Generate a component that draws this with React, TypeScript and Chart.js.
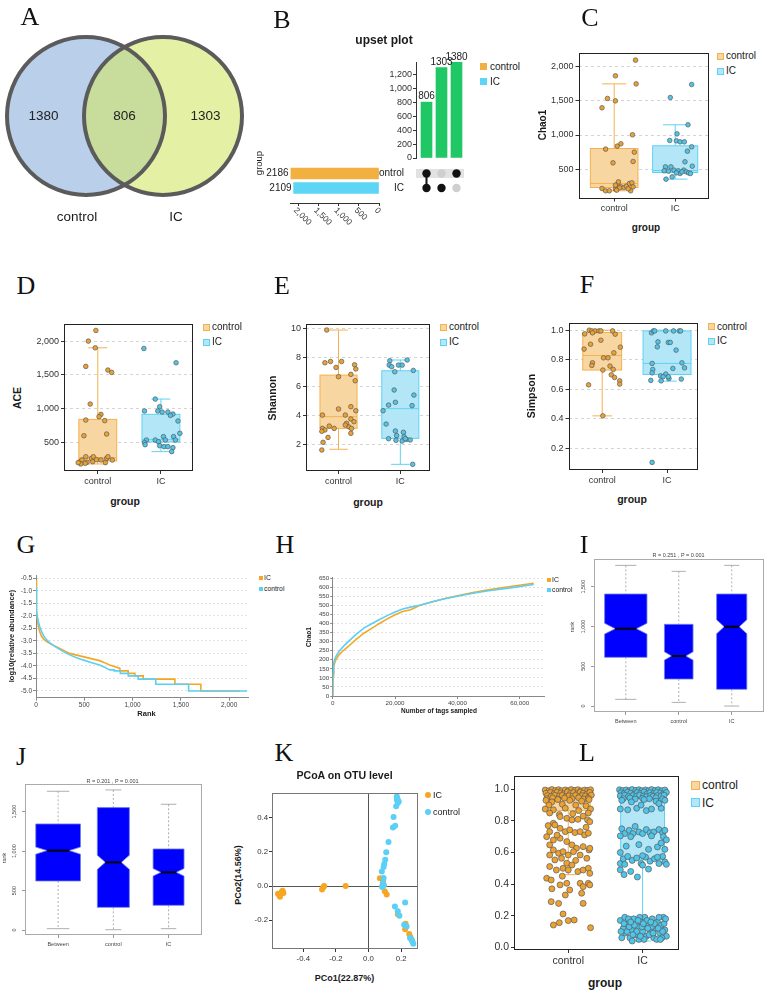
import React, { useEffect, useRef } from 'react';
import { Chart, registerables } from 'chart.js';

Chart.register(...registerables);

const SANS = "'Liberation Sans', Arial, Helvetica, sans-serif";
const SERIF = "'Liberation Serif', 'Times New Roman', Times, serif";
Chart.defaults.font.family = SANS;

/* ======================= DATA ======================= */
const groups = ['control', 'IC'];

// A – Venn counts: control only, shared, IC only
const vennCounts = [1380, 806, 1303];

// B – UpSet
const upsetCounts = [806, 1303, 1380];
const upsetMembers = [[1, 1], [0, 1], [1, 0]]; // per column: [control, IC]
const upsetSetNames = ['control', 'IC'];
const upsetSetSizes = [2186, 2109];
const upsetCountTicks = [0, 200, 400, 600, 800, 1000, 1200];
const upsetSizeTicks = [0, 500, 1000, 1500, 2000];

type Pt = [number, number];
type Box = { x: number; lo: number; q1: number; med: number; q3: number; hi: number };
type NBox = Box & { notch: number };

// C – Chao1
const chaoTicks = [500, 1000, 1500, 2000];
const chaoControl: Pt[] = [[1.35,2098],[1.02,1868],[1.36,1750],[0.89,1536],[1.02,1501],[0.80,1399],[1.30,1003],[1.11,871],[1.05,837],[0.86,793],[1.33,749],[1.31,612],[0.98,592],[0.80,216],[0.86,182],[0.92,182],[1.02,206],[1.05,274],[1.07,313],[1.11,240],[1.16,230],[1.20,250],[1.25,289],[1.29,299],[1.27,182],[1.23,211],[1.09,225],[1.02,265],[1.31,240],[1.04,191]];
const chaoIC: Pt[] = [[2.27,1741],[1.92,1550],[2.21,1150],[2.03,1017],[1.91,920],[2.02,915],[2.08,900],[2.15,900],[2.27,827],[2.20,763],[2.16,607],[2.28,543],[1.84,533],[1.93,533],[1.82,475],[1.89,470],[1.98,485],[2.05,475],[2.14,485],[2.18,460],[2.22,445],[2.25,436],[2.08,436],[2.02,445],[1.85,353],[1.95,387],[2.11,460]];
const chaoBoxes: Box[] = [{ x: 1, lo: 182, q1: 230, med: 290, q3: 802, hi: 1750 }, { x: 2, lo: 353, q1: 450, med: 480, q3: 842, hi: 1150 }];

// D – ACE
const aceTicks = [500, 1000, 1500, 2000];
const aceControl: Pt[] = [[0.97,2158],[0.85,2000],[0.96,1901],[0.81,1625],[1.16,1571],[1.22,1536],[0.88,1067],[1.05,914],[1.02,880],[0.81,830],[1.11,821],[1.14,623],[0.78,598],[0.72,213],[0.75,238],[0.81,287],[0.83,204],[0.90,262],[0.93,287],[0.92,213],[0.80,189],[0.98,243],[1.14,262],[1.16,287],[1.23,238],[1.12,199],[1.05,238],[0.73,179],[0.69,199]];
const aceIC: Pt[] = [[1.73,1891],[2.24,1679],[1.91,1141],[1.98,1028],[1.74,964],[1.95,964],[2.02,949],[2.11,949],[2.19,919],[2.15,899],[2.27,816],[2.30,633],[2.04,584],[2.20,584],[1.77,534],[1.91,534],[2.07,534],[2.23,534],[1.96,510],[1.74,495],[1.75,465],[1.98,450],[2.05,436],[2.11,436],[2.19,421],[2.17,362]];
const aceBoxes: Box[] = [{ x: 1, lo: 179, q1: 223, med: 272, q3: 840, hi: 1901 }, { x: 2, lo: 362, q1: 505, med: 540, q3: 915, hi: 1141 }];

// E – Shannon
const shannonTicks = [2, 4, 6, 8, 10];
const shannonControl: Pt[] = [[0.81,9.89],[0.87,7.72],[1.05,7.72],[0.78,7.63],[1.26,7.49],[0.96,7.31],[1.28,7.2],[1.2,6.83],[1.0,6.67],[1.27,6.39],[1.2,4.6],[1.0,4.44],[1.28,4.32],[0.74,4.02],[1.11,4.02],[1.2,3.75],[1.25,3.56],[1.13,3.45],[1.11,3.33],[0.85,3.26],[1.17,3.2],[0.93,3.1],[1.21,3.1],[0.74,3.1],[0.78,2.99],[0.73,2.9],[1.2,2.76],[0.83,2.48],[0.75,2.14],[0.73,1.61]];
const shannonIC: Pt[] = [[1.83,7.77],[2.11,7.82],[1.82,7.47],[1.97,7.47],[2.03,7.47],[1.86,7.36],[2.21,7.1],[1.91,7.01],[1.9,5.75],[2.22,5.4],[1.92,4.9],[1.81,4.71],[2.19,4.67],[1.72,4.32],[1.77,3.4],[1.92,2.92],[2.05,2.83],[1.94,2.6],[2.06,2.53],[1.81,2.39],[2.1,2.34],[1.93,2.28],[2.16,2.3],[2.03,2.23],[2.08,2.39],[2.2,0.62]];
const shannonBoxes: Box[] = [{ x: 1, lo: 1.66, q1: 3.1, med: 3.91, q3: 6.78, hi: 9.89 }, { x: 2, lo: 0.62, q1: 2.41, med: 4.46, q3: 7.08, hi: 7.82 }];

// F – Simpson
const simpsonTicks = [0.2, 0.4, 0.6, 0.8, 1.0];
const simpsonControl: Pt[] = [[0.8,1.0],[0.84,0.995],[0.89,0.995],[0.95,0.995],[0.98,0.995],[1.16,0.995],[0.85,0.982],[0.73,0.975],[1.2,0.973],[0.98,0.932],[0.82,0.905],[1.28,0.885],[0.72,0.872],[1.18,0.847],[1.02,0.813],[1.09,0.813],[0.85,0.779],[0.84,0.761],[1.12,0.757],[1.01,0.73],[1.17,0.734],[1.14,0.698],[1.19,0.68],[1.27,0.657],[1.27,0.635],[0.79,0.63],[1.01,0.42]];
const simpsonIC: Pt[] = [[1.76,0.982],[1.79,0.995],[1.81,0.995],[1.98,0.995],[2.1,0.995],[2.19,0.995],[2.21,0.995],[1.86,0.921],[1.85,0.887],[2.02,0.917],[2.05,0.917],[2.14,0.865],[1.77,0.775],[2.23,0.779],[2.09,0.741],[2.27,0.745],[1.78,0.734],[1.77,0.711],[1.9,0.691],[1.98,0.703],[1.94,0.685],[2.03,0.673],[2.02,0.685],[2.22,0.669],[1.75,0.66],[1.91,0.657],[1.77,0.105]];
const simpsonBoxes: Box[] = [{ x: 1, lo: 0.42, q1: 0.73, med: 0.829, q3: 0.984, hi: 1.0 }, { x: 2, lo: 0.655, q1: 0.70, med: 0.775, q3: 0.995, hi: 1.0 }];

// G – rank abundance
const rankTicksX = [0, 500, 1000, 1500, 2000];
const rankTicksY = [-5, -4.5, -4, -3.5, -3, -2.5, -2, -1.5, -1, -0.5];
const rankICx = [0,3,8,13,24,40,59,80,110,150,210,280,348,420,486,570,658,710,762,820,869,869,955,955,1024,1024,1110,1110,1438,1438,1707,1707,2109];
const rankICy = [-0.57,-1.3,-1.8,-2.03,-2.43,-2.65,-2.83,-2.93,-3.03,-3.12,-3.23,-3.37,-3.5,-3.57,-3.63,-3.71,-3.79,-3.87,-3.96,-4.03,-4.1,-4.2,-4.2,-4.3,-4.3,-4.4,-4.4,-4.53,-4.53,-4.73,-4.73,-5.0,-5.0];
const rankCtrlx = [0,2,7,14,24,40,59,80,110,150,210,280,348,420,486,570,658,710,762,810,810,873,873,955,955,1058,1058,1240,1240,1580,1580,2186];
const rankCtrly = [-0.83,-1.4,-1.83,-2.05,-2.23,-2.45,-2.63,-2.8,-2.96,-3.1,-3.26,-3.42,-3.56,-3.67,-3.76,-3.86,-3.96,-4.05,-4.16,-4.16,-4.2,-4.2,-4.3,-4.3,-4.4,-4.4,-4.53,-4.53,-4.73,-4.73,-5.0,-5.0];

// H – rarefaction
const rareTicksX = [0, 20000, 40000, 60000];
const rareTicksY = [0, 50, 100, 150, 200, 250, 300, 350, 400, 450, 500, 550, 600, 650];
const rareX = [0,100,300,600,1000,2000,3500,5000,7500,10000,12500,15000,17500,20000,22500,25000,26500,28000,32000,36000,40000,45000,50000,57000,64500];
const rareIC = [0,110,160,180,199,227,252,273,312,346,373,400,425,448,466,475,488,500,520,538,553,570,585,604,622];
const rareCtrl = [0,125,180,200,217,245,275,300,340,374,398,422,443,463,480,490,496,500,520,536,550,566,580,596,615];

// I / J – ANOSIM rank boxes
const anosimNames = ['Between', 'control', 'IC'];
const anosimTicks = [0, 500, 1000, 1500];
const anosimI: NBox[] = [
  { x: 1, lo: 84, q1: 612, med: 972, q3: 1408, hi: 1768, notch: 68 },
  { x: 2, lo: 46, q1: 339, med: 629, q3: 1027, hi: 1693, notch: 52 },
  { x: 3, lo: 0, q1: 210, med: 997, q3: 1408, hi: 1768, notch: 88 },
];
const anosimJ: NBox[] = [
  { x: 1, lo: 17, q1: 621, med: 1006, q3: 1344, hi: 1758, notch: 45 },
  { x: 2, lo: 4, q1: 287, med: 858, q3: 1551, hi: 1775, notch: 90 },
  { x: 3, lo: 17, q1: 313, med: 731, q3: 1027, hi: 1593, notch: 48 },
];

// K – PCoA
const pcoaTicksX = [-0.4, -0.2, 0, 0.2];
const pcoaTicksY = [-0.2, 0, 0.2, 0.4];
const pcoaIC: Pt[] = [[-0.555,-0.045],[-0.548,-0.052],[-0.543,-0.062],[-0.532,-0.035],[-0.527,-0.028],[-0.522,-0.04],[-0.285,-0.02],[-0.278,-0.008],[-0.272,0.0],[-0.14,0.0],[0.07,0.045],[0.09,0.03],[0.085,0.0],[0.1,-0.03],[0.112,-0.05],[0.18,-0.165],[0.228,-0.22],[0.225,-0.252],[0.25,-0.28],[0.258,-0.3],[0.268,-0.318]];
const pcoaControl: Pt[] = [[0.174,0.524],[0.174,0.505],[0.18,0.485],[0.17,0.466],[0.186,0.495],[0.178,0.51],[0.154,0.403],[0.15,0.343],[0.164,0.353],[0.123,0.257],[0.109,0.197],[0.103,0.154],[0.097,0.129],[0.093,0.111],[0.082,0.085],[0.093,0.047],[0.088,0.018],[0.084,-0.006],[0.095,0.005],[0.162,-0.119],[0.18,-0.148],[0.19,-0.174],[0.225,-0.096],[0.219,-0.226],[0.234,-0.236],[0.255,-0.304],[0.269,-0.324],[0.275,-0.338],[0.262,-0.31]];

// L – pairwise similarity
const pairTicks = [0, 0.2, 0.4, 0.6, 0.8, 1.0];
const pairControl: Pt[] = [
  [0.69,0.995],[0.74,0.99],[0.78,0.998],[0.83,0.992],[0.87,0.997],[0.91,0.99],[0.96,0.996],[1.0,0.991],[1.04,0.998],[1.09,0.993],[1.13,0.997],[1.17,0.99],[1.22,0.995],[1.26,0.992],[1.3,0.997],
  [0.7,0.975],[0.76,0.98],[0.81,0.972],[0.85,0.982],[0.9,0.976],[0.94,0.97],[0.99,0.983],[1.03,0.974],[1.07,0.979],[1.12,0.971],[1.16,0.981],[1.2,0.975],[1.25,0.97],[1.29,0.98],
  [0.72,0.96],[0.77,0.955],[0.82,0.962],[0.88,0.957],[0.92,0.961],[0.97,0.953],[1.01,0.959],[1.06,0.956],[1.1,0.962],[1.15,0.954],[1.19,0.96],[1.23,0.957],[1.28,0.952],[1.31,0.963],
  [0.71,0.94],[0.79,0.945],[0.86,0.938],[0.95,0.944],[1.05,0.94],[1.14,0.946],[1.21,0.939],[1.27,0.943],
  [0.70,0.93],[0.78,0.92],[0.86,0.935],[1.02,0.93],[1.18,0.925],[1.28,0.935],[0.74,0.90],[0.92,0.905],[1.10,0.90],[1.24,0.895],[0.69,0.875],[0.80,0.87],[0.96,0.88],[1.14,0.865],[1.30,0.875],[0.75,0.85],[1.06,0.845],[1.27,0.85],[0.88,0.84],[1.20,0.83],
  [0.89,0.827],[0.98,0.816],[1.05,0.806],[1.13,0.81],[1.26,0.806],[1.29,0.795],[0.80,0.785],[0.82,0.774],[0.89,0.753],[0.96,0.732],[1.02,0.743],[1.09,0.726],[1.16,0.732],[1.22,0.711],[1.27,0.722],[0.75,0.732],
  [0.71,0.70],[0.80,0.679],[0.89,0.69],[0.98,0.669],[1.05,0.648],[1.11,0.627],[1.2,0.637],[1.28,0.616],[0.75,0.648],[0.80,0.616],[0.87,0.595],[0.93,0.605],[1.0,0.584],[1.07,0.605],[1.16,0.584],[1.25,0.563],[1.29,0.627],
  [0.75,0.584],[0.82,0.553],[0.91,0.563],[0.98,0.532],[0.75,0.511],[0.84,0.489],[0.93,0.5],[1.0,0.489],[1.05,0.521],[1.13,0.479],[1.2,0.489],[1.27,0.5],[1.29,0.468],[0.71,0.437],[0.77,0.426],[0.89,0.395],
  [0.98,0.405],[1.02,0.363],[0.96,0.331],[1.16,0.405],[1.2,0.384],[1.27,0.405],[1.29,0.395],[1.18,0.342],[0.77,0.289],[0.87,0.278],[1.2,0.278],[0.93,0.211],[0.80,0.141],[0.88,0.156],[1.0,0.169],[1.08,0.173],[1.3,0.124],
  [0.73,0.77],[0.85,0.71],[1.24,0.76],[0.92,0.45],[1.1,0.55],[0.78,0.37],
];
const pairIC: Pt[] = [
  [1.69,0.997],[1.73,0.992],[1.78,0.996],[1.82,0.99],[1.86,0.998],[1.91,0.993],[1.95,0.997],[1.99,0.991],[2.04,0.996],[2.08,0.99],[2.12,0.998],[2.17,0.993],[2.21,0.997],[2.26,0.991],[2.3,0.995],
  [1.71,0.978],[1.75,0.972],[1.8,0.982],[1.84,0.975],[1.89,0.97],[1.93,0.98],[1.97,0.974],[2.02,0.983],[2.06,0.971],[2.1,0.979],[2.15,0.973],[2.19,0.981],[2.24,0.976],[2.28,0.97],[2.32,0.98],
  [1.7,0.958],[1.76,0.962],[1.81,0.954],[1.87,0.96],[1.92,0.956],[1.96,0.963],[2.01,0.957],[2.05,0.953],[2.11,0.961],[2.14,0.955],[2.2,0.96],[2.25,0.957],[2.29,0.962],
  [1.74,0.94],[1.83,0.945],[1.9,0.938],[2.0,0.943],[2.09,0.94],[2.18,0.946],[2.27,0.939],
  [1.72,0.93],[1.85,0.92],[2.02,0.935],[2.18,0.925],[2.3,0.93],[1.7,0.875],[1.8,0.87],[1.92,0.88],[2.05,0.865],[2.12,0.875],[2.25,0.88],[1.98,0.9],[2.22,0.91],
  [1.72,0.75],[1.76,0.72],[1.82,0.74],[1.87,0.72],[1.9,0.765],[1.95,0.73],[2.0,0.72],[2.05,0.745],[2.1,0.725],[2.15,0.73],[2.22,0.745],[2.27,0.725],[2.3,0.74],[1.7,0.705],[1.84,0.7],[2.12,0.705],[2.28,0.7],[2.32,0.68],
  [1.78,0.64],[1.95,0.65],[2.08,0.62],[2.2,0.635],[2.3,0.62],[1.7,0.6],[2.25,0.66],
  [1.7,0.53],[1.74,0.56],[1.8,0.575],[1.86,0.55],[1.92,0.565],[1.98,0.53],[2.04,0.57],[2.1,0.545],[2.16,0.56],[2.22,0.53],[2.27,0.575],[2.3,0.54],[2.32,0.525],[1.76,0.525],[2.0,0.58],[2.2,0.57],
  [1.7,0.49],[1.75,0.46],[1.84,0.48],[1.93,0.445],[2.08,0.495],[2.0,0.52],
  [1.7,0.17],[1.74,0.12],[1.77,0.09],[1.8,0.15],[1.83,0.06],[1.85,0.11],[1.88,0.18],[1.9,0.08],[1.93,0.13],[1.95,0.05],[1.98,0.16],[2.0,0.1],[2.03,0.19],[2.05,0.07],[2.08,0.14],[2.1,0.11],[2.13,0.18],[2.15,0.06],[2.18,0.12],[2.2,0.16],[2.23,0.09],[2.25,0.14],[2.28,0.19],[2.3,0.11],[2.32,0.07],
  [1.72,0.06],[1.76,0.19],[1.79,0.1],[1.82,0.13],[1.86,0.04],[1.89,0.14],[1.92,0.1],[1.96,0.19],[1.99,0.13],[2.02,0.05],[2.06,0.17],[2.09,0.08],[2.12,0.13],[2.16,0.15],[2.19,0.05],[2.22,0.19],[2.26,0.06],[2.29,0.15],[2.31,0.18],
  [1.71,0.1],[1.75,0.15],[1.81,0.18],[1.87,0.08],[1.94,0.17],[2.01,0.15],[2.07,0.12],[2.14,0.09],[2.21,0.12],[2.27,0.1],[1.84,0.16],[2.11,0.16],[1.97,0.07],[2.24,0.05],
];
const pairBoxes: Box[] = [{ x: 1, lo: 0.46, q1: 0.865, med: 0.955, q3: 0.99, hi: 1.0 }, { x: 2, lo: 0.04, q1: 0.555, med: 0.95, q3: 0.99, hi: 1.0 }];

/* ======================= STYLE ======================= */
const OR_PT = '#EDA12F', CY_PT = '#4EC5EA', PT_EDGE = '#5a5a5a';
const OR_FILL = '#F8D6A2', OR_LINE = '#F3B24E', CY_FILL = '#B3E7F7', CY_LINE = '#5FD2F4';
const OR_BAR = '#F2B040', CY_BAR = '#5DD5F5', GREEN = '#1FC864';
const OR_LN = '#F5A623', CY_LN = '#5BCFF5';

type Rect = { x: number; y: number; w: number; h: number };
const pts = (a: Pt[]) => a.map(([x, y]) => ({ x, y }));
const zip = (xs: number[], ys: number[]) => xs.map((x, i) => ({ x, y: ys[i] }));
const at = (vals: number[]) => (s: any) => { s.ticks = vals.map((v) => ({ value: v })); };
const comma = (v: number) => Number(v).toLocaleString('en-US');
const fx1 = (v: number) => Number(v).toFixed(1);
const yFit = (c: Rect, p: Rect) => (s: any) => { s.width = p.x - c.x; };
const xFit = (c: Rect, p: Rect) => (s: any) => { s.height = c.y + c.h - (p.y + p.h); };
const F = (size: number, weight: any = 'normal') => ({ family: SANS, size, weight });

function base(c: Rect, p: Rect) {
  return {
    responsive: false, maintainAspectRatio: false, animation: false, devicePixelRatio: 1, events: [],
    layout: { autoPadding: false, padding: { left: 0, top: p.y - c.y, right: c.x + c.w - (p.x + p.w), bottom: 0 } },
    plugins: { legend: { display: false }, tooltip: { enabled: false }, title: { display: false } },
  };
}

/* ======================= PLUGINS ======================= */
function framePlug(color: string, width = 1) {
  return {
    id: 'frame',
    afterDatasetsDraw(chart: any) {
      const { left, top, right, bottom } = chart.chartArea;
      const ctx = chart.ctx;
      ctx.save();
      ctx.strokeStyle = color; ctx.lineWidth = width;
      ctx.strokeRect(Math.round(left) + 0.5, Math.round(top) + 0.5, Math.round(right) - Math.round(left) - 1, Math.round(bottom) - Math.round(top) - 1);
      ctx.restore();
    },
  };
}

function ggBoxPlug(boxes: Box[], widths: number[], cap: number) {
  return {
    id: 'ggbox',
    beforeDatasetsDraw(chart: any) {
      const ctx = chart.ctx, X = chart.scales.x, Y = chart.scales.y;
      const px = (v: number) => X.getPixelForValue(v), py = (v: number) => Y.getPixelForValue(v);
      boxes.forEach((b, i) => {
        const w = widths[i];
        const cx = px(b.x), l = px(b.x - w / 2), r = px(b.x + w / 2), cl = px(b.x - cap / 2), cr = px(b.x + cap / 2);
        ctx.save();
        ctx.strokeStyle = i === 0 ? OR_LINE : CY_LINE; ctx.lineWidth = 1;
        ctx.beginPath();
        ctx.moveTo(cx, py(b.hi)); ctx.lineTo(cx, py(b.q3));
        ctx.moveTo(cx, py(b.q1)); ctx.lineTo(cx, py(b.lo));
        ctx.moveTo(cl, py(b.hi)); ctx.lineTo(cr, py(b.hi));
        ctx.moveTo(cl, py(b.lo)); ctx.lineTo(cr, py(b.lo));
        ctx.stroke();
        const t = py(b.q3), h = py(b.q1) - t;
        ctx.fillStyle = i === 0 ? OR_FILL : CY_FILL;
        ctx.fillRect(l, t, r - l, h);
        ctx.strokeRect(l, t, r - l, h);
        ctx.beginPath(); ctx.moveTo(l, py(b.med)); ctx.lineTo(r, py(b.med)); ctx.stroke();
        ctx.restore();
      });
    },
  };
}

function rBoxPlug(boxes: NBox[], widths: number[]) {
  return {
    id: 'rbox',
    beforeDatasetsDraw(chart: any) {
      const ctx = chart.ctx, X = chart.scales.x, Y = chart.scales.y;
      const px = (v: number) => X.getPixelForValue(v), py = (v: number) => Y.getPixelForValue(v);
      boxes.forEach((b, i) => {
        const w = widths[i];
        const cx = px(b.x), l = px(b.x - w / 2), r = px(b.x + w / 2), nl = px(b.x - w / 4), nr = px(b.x + w / 4);
        ctx.save();
        ctx.strokeStyle = '#9a9a9a'; ctx.lineWidth = 0.8;
        ctx.setLineDash([2, 2]);
        ctx.beginPath();
        ctx.moveTo(cx, py(b.hi)); ctx.lineTo(cx, py(b.q3));
        ctx.moveTo(cx, py(b.q1)); ctx.lineTo(cx, py(b.lo));
        ctx.stroke();
        ctx.setLineDash([]);
        ctx.beginPath();
        ctx.moveTo(nl, py(b.hi)); ctx.lineTo(nr, py(b.hi));
        ctx.moveTo(nl, py(b.lo)); ctx.lineTo(nr, py(b.lo));
        ctx.stroke();
        ctx.beginPath();
        ctx.moveTo(l, py(b.q3)); ctx.lineTo(r, py(b.q3)); ctx.lineTo(r, py(b.med + b.notch)); ctx.lineTo(nr, py(b.med));
        ctx.lineTo(r, py(b.med - b.notch)); ctx.lineTo(r, py(b.q1)); ctx.lineTo(l, py(b.q1)); ctx.lineTo(l, py(b.med - b.notch));
        ctx.lineTo(nl, py(b.med)); ctx.lineTo(l, py(b.med + b.notch)); ctx.closePath();
        ctx.fillStyle = '#0000FF'; ctx.fill();
        ctx.strokeStyle = '#7080E0'; ctx.lineWidth = 0.8; ctx.stroke();
        ctx.beginPath(); ctx.moveTo(nl, py(b.med)); ctx.lineTo(nr, py(b.med));
        ctx.strokeStyle = '#000'; ctx.lineWidth = 2; ctx.stroke();
        ctx.restore();
      });
    },
  };
}

function barTopLabels(vals: number[]) {
  return {
    id: 'barTop',
    afterDatasetsDraw(chart: any) {
      const ctx = chart.ctx; const meta = chart.getDatasetMeta(0);
      ctx.save(); ctx.font = `10px ${SANS}`; ctx.fillStyle = '#222'; ctx.textAlign = 'center'; ctx.textBaseline = 'bottom';
      meta.data.forEach((el: any, i: number) => ctx.fillText(String(vals[i]), el.x, el.y - 0.5));
      ctx.restore();
    },
  };
}

function barLeftLabels(vals: number[]) {
  return {
    id: 'barLeft',
    afterDatasetsDraw(chart: any) {
      const ctx = chart.ctx; const meta = chart.getDatasetMeta(0);
      ctx.save(); ctx.font = `10px ${SANS}`; ctx.fillStyle = '#222'; ctx.textAlign = 'right'; ctx.textBaseline = 'middle';
      meta.data.forEach((el: any, i: number) => ctx.fillText(String(vals[i]), el.x - 2, el.y));
      ctx.restore();
    },
  };
}

function rotTicks(vals: number[]) {
  return {
    id: 'rotTicks',
    afterDraw(chart: any) {
      const ctx = chart.ctx, X = chart.scales.x, b = chart.chartArea.bottom;
      ctx.save(); ctx.font = `8.5px ${SANS}`; ctx.fillStyle = '#333'; ctx.textAlign = 'left'; ctx.textBaseline = 'middle';
      vals.forEach((v) => {
        ctx.save(); ctx.translate(X.getPixelForValue(v) - 3, b + 6); ctx.rotate(Math.PI / 4); ctx.fillText(comma(v), 0, 0); ctx.restore();
      });
      ctx.restore();
    },
  };
}

function bandPlug(value: number, half: number, color: string) {
  return {
    id: 'band',
    beforeDatasetsDraw(chart: any) {
      const ctx = chart.ctx, { left, right } = chart.chartArea, y = chart.scales.y.getPixelForValue(value);
      ctx.save(); ctx.fillStyle = color; ctx.fillRect(left, y - half, right - left, half * 2); ctx.restore();
    },
  };
}

function vennLabels(counts: number[], r: number, cxs: number[], cy: number) {
  return {
    id: 'vennLabels',
    afterDatasetsDraw(chart: any) {
      const ctx = chart.ctx, X = chart.scales.x, Y = chart.scales.y;
      const [a, b] = cxs;
      const xs = [(a - r + b - r) / 2, (b - r + a + r) / 2, (a + r + b + r) / 2];
      ctx.save(); ctx.font = `13.5px ${SANS}`; ctx.fillStyle = '#222'; ctx.textAlign = 'center'; ctx.textBaseline = 'middle';
      counts.forEach((n, i) => ctx.fillText(String(n), X.getPixelForValue(xs[i]), Y.getPixelForValue(cy)));
      ctx.restore();
    },
  };
}

/* ======================= CONFIGS ======================= */
const hiddenX = (c: Rect, p: Rect, min: number, max: number) => ({
  type: 'linear', min, max, offset: false, afterFit: xFit(c, p), ticks: { display: false }, grid: { display: false }, border: { display: false },
});

function ggPanel(o: any) {
  const { c, p } = o;
  return {
    type: 'scatter',
    data: {
      datasets: [
        { data: pts(o.ctrl), pointRadius: o.r, backgroundColor: OR_PT, borderColor: PT_EDGE, borderWidth: 0.7, clip: false },
        { data: pts(o.ic), pointRadius: o.r, backgroundColor: CY_PT, borderColor: PT_EDGE, borderWidth: 0.7, clip: false },
      ],
    },
    options: {
      ...base(c, p),
      scales: {
        x: {
          type: 'linear', min: o.xmin, max: o.xmax, afterBuildTicks: at([1, 2]), afterFit: xFit(c, p),
          ticks: { callback: (v: number) => groups[v - 1], font: F(o.tick), color: '#333', padding: 2, autoSkip: false, minRotation: 0, maxRotation: 0 },
          grid: { drawOnChartArea: false, tickLength: 3, color: '#333' }, border: { display: false },
        },
        y: {
          type: 'linear', min: o.ymin, max: o.ymax, afterBuildTicks: at(o.yticks), afterFit: yFit(c, p),
          ticks: { callback: o.yfmt, font: F(o.tick), color: '#333', padding: 2, autoSkip: false },
          grid: { drawOnChartArea: o.grid, color: '#d4d4d4', tickColor: '#333', tickLength: 3 }, border: { display: false, dash: [3, 3] },
        },
      },
    },
    plugins: [ggBoxPlug(o.boxes, o.bw, o.cap), framePlug('#222')],
  };
}

function rPanel(c: Rect, p: Rect, ymin: number, ymax: number, boxes: NBox[], widths: number[]) {
  return {
    type: 'scatter',
    data: { datasets: [] },
    options: {
      ...base(c, p),
      scales: {
        x: {
          type: 'linear', min: 0.4, max: 3.6, afterBuildTicks: at([1, 2, 3]), afterFit: xFit(c, p),
          ticks: { callback: (v: number) => anosimNames[v - 1], font: F(5.5), color: '#444', padding: 3, autoSkip: false, minRotation: 0, maxRotation: 0 },
          grid: { drawOnChartArea: false, tickLength: 3, color: '#999' }, border: { display: false },
        },
        y: {
          type: 'linear', min: ymin, max: ymax, afterBuildTicks: at(anosimTicks), afterFit: yFit(c, p),
          ticks: { font: F(5.5), color: '#444', padding: 1, autoSkip: false, minRotation: 90, maxRotation: 90, crossAlign: 'center' },
          grid: { drawOnChartArea: false, tickLength: 3, color: '#999' }, border: { display: false },
        },
      },
    },
    plugins: [rBoxPlug(boxes, widths), framePlug('#aaa')],
  };
}

// rects
const cA = { x: 0, y: 25, w: 250, h: 195 };
const cB1 = { x: 370, y: 45, w: 100, h: 125 }, pB1 = { x: 416, y: 62, w: 48, h: 96 };
const cB2 = { x: 370, y: 148, w: 100, h: 64 }, pB2 = { x: 416, y: 165, w: 48, h: 31 };
const cB3 = { x: 250, y: 160, w: 132, h: 80 }, pB3 = { x: 290.5, y: 165, w: 88.5, h: 38 };
const cC = { x: 540, y: 42, w: 172, h: 173 }, pC = { x: 578.5, y: 52.5, w: 130, h: 146 };
const cD = { x: 25, y: 312, w: 172, h: 173 }, pD = { x: 64, y: 323.5, w: 128.5, h: 147.5 };
const cE = { x: 275, y: 312, w: 158, h: 173 }, pE = { x: 306, y: 323.5, w: 124, h: 147.5 };
const cF = { x: 535, y: 312, w: 165, h: 173 }, pF = { x: 568.5, y: 322.5, w: 129, h: 147.5 };
const cG = { x: 5, y: 565, w: 250, h: 155 }, pG = { x: 36, y: 575, w: 212, h: 122.7 };
const cH = { x: 312, y: 568, w: 235, h: 152 }, pH = { x: 332.7, y: 577, w: 211.3, h: 119 };
const cI = { x: 565, y: 550, w: 199, h: 180 }, pI = { x: 594, y: 559, w: 169.5, h: 153 };
const cJ = { x: 0, y: 775, w: 210, h: 180 }, pJ = { x: 25, y: 784, w: 176.7, h: 151 };
const cK = { x: 250, y: 783, w: 172, h: 187 }, pK = { x: 272, y: 793, w: 146, h: 156 };
const cL = { x: 488, y: 762, w: 192, h: 213 }, pL = { x: 514, y: 776, w: 165, h: 174 };

const VENN = { r: 79, cx: [86, 163], cy: 116 };
const rowY = (i: number) => upsetSetNames.length - 1 - i;

const configs: Record<string, () => any> = {
  A: () => ({
    type: 'scatter',
    data: {
      datasets: [
        { data: VENN.cx.map((x) => ({ x, y: VENN.cy })), pointRadius: VENN.r, backgroundColor: 'rgba(0,0,0,0)', borderColor: '#5b5b5b', borderWidth: 4, clip: false },
        { data: [{ x: VENN.cx[1], y: VENN.cy }], pointRadius: VENN.r, backgroundColor: 'rgba(210,230,102,0.6)', borderWidth: 0, clip: false },
        { data: [{ x: VENN.cx[0], y: VENN.cy }], pointRadius: VENN.r, backgroundColor: 'rgb(185,207,234)', borderWidth: 0, clip: false },
      ],
    },
    options: {
      responsive: false, animation: false, devicePixelRatio: 1, events: [],
      layout: { autoPadding: false, padding: 0 },
      plugins: { legend: { display: false }, tooltip: { enabled: false } },
      scales: { x: { display: false, min: 0, max: 250 }, y: { display: false, min: 25, max: 220, reverse: true } },
    },
    plugins: [vennLabels(vennCounts, VENN.r + 2, VENN.cx, VENN.cy)],
  }),
  B1: () => ({
    type: 'bar',
    data: { datasets: [{ data: upsetCounts.map((v, i) => ({ x: i + 1, y: v })), backgroundColor: GREEN, barThickness: 11 }] },
    options: {
      ...base(cB1, pB1),
      scales: {
        x: hiddenX(cB1, pB1, 0.3, 3.5),
        y: {
          type: 'linear', min: 0, max: 1385, afterBuildTicks: at(upsetCountTicks), afterFit: yFit(cB1, pB1),
          ticks: { callback: comma, font: F(9), color: '#333', padding: 1, autoSkip: false },
          grid: { drawOnChartArea: false, tickLength: 3, color: '#333' }, border: { display: true, color: '#333' },
        },
      },
    },
    plugins: [barTopLabels(upsetCounts)],
  }),
  B2: () => {
    const dots: any[] = [], cols: string[] = [];
    upsetMembers.forEach((m, ci) => m.forEach((on, si) => { dots.push({ x: ci + 1, y: rowY(si) }); cols.push(on ? '#111' : '#cfcfcf'); }));
    const links = upsetMembers
      .map((m, ci) => ({ ci, on: m.map((v, si) => (v ? si : -1)).filter((s) => s >= 0) }))
      .filter((o) => o.on.length > 1)
      .map((o) => ({ data: o.on.map((si) => ({ x: o.ci + 1, y: rowY(si) })), showLine: true, borderColor: '#111', borderWidth: 2, pointRadius: 0 }));
    return {
      type: 'scatter',
      data: { datasets: [{ data: dots, pointRadius: 4.2, backgroundColor: cols, borderWidth: 0, clip: false }, ...links] },
      options: {
        ...base(cB2, pB2),
        scales: {
          x: hiddenX(cB2, pB2, 0.3, 3.5),
          y: {
            type: 'linear', min: -0.552, max: 1.586, afterBuildTicks: at([0, 1]), afterFit: yFit(cB2, pB2),
            ticks: { callback: (v: number) => upsetSetNames[rowY(v)], font: F(10), color: '#222', padding: 4, autoSkip: false },
            grid: { display: false }, border: { display: false },
          },
        },
      },
      plugins: [bandPlug(rowY(0), 4.5, '#e2e2e2')],
    };
  },
  B3: () => ({
    type: 'bar',
    data: { datasets: [{ data: upsetSetSizes.map((v, i) => ({ x: v, y: rowY(i) })), backgroundColor: [OR_BAR, CY_BAR], barThickness: 11 }] },
    options: {
      ...base(cB3, pB3),
      indexAxis: 'y',
      scales: {
        x: {
          type: 'linear', reverse: true, min: 0, max: 2186, offset: false, afterBuildTicks: at(upsetSizeTicks), afterFit: xFit(cB3, pB3),
          ticks: { display: false }, grid: { drawOnChartArea: false, tickLength: 3, color: '#333' }, border: { display: true, color: '#333' },
        },
        y: {
          type: 'linear', min: -1.034, max: 1.586, offset: false, afterFit: yFit(cB3, pB3),
          ticks: { display: false }, grid: { display: false }, border: { display: false },
        },
      },
    },
    plugins: [barLeftLabels(upsetSetSizes), rotTicks(upsetSizeTicks)],
  }),
  C: () => ggPanel({ c: cC, p: pC, ymin: 69, ymax: 2210, yticks: chaoTicks, yfmt: comma, xmin: 0.415, xmax: 2.546, boxes: chaoBoxes, bw: [0.78, 0.74], cap: 0.4, ctrl: chaoControl, ic: chaoIC, tick: 9, r: 2.3, grid: true }),
  D: () => ggPanel({ c: cD, p: pD, ymin: 75, ymax: 2261, yticks: aceTicks, yfmt: comma, xmin: 0.465, xmax: 2.5, boxes: aceBoxes, bw: [0.6, 0.6], cap: 0.3, ctrl: aceControl, ic: aceIC, tick: 9, r: 2.3, grid: true }),
  E: () => ggPanel({ c: cE, p: pE, ymin: 0.16, ymax: 10.34, yticks: shannonTicks, yfmt: (v: number) => String(v), xmin: 0.474, xmax: 2.48, boxes: shannonBoxes, bw: [0.6, 0.6], cap: 0.3, ctrl: shannonControl, ic: shannonIC, tick: 9, r: 2.3, grid: true }),
  F: () => ggPanel({ c: cF, p: pF, ymin: 0.0535, ymax: 1.052, yticks: simpsonTicks, yfmt: fx1, xmin: 0.48, xmax: 2.47, boxes: simpsonBoxes, bw: [0.6, 0.74], cap: 0.3, ctrl: simpsonControl, ic: simpsonIC, tick: 9, r: 2.3, grid: true }),
  G: () => ({
    type: 'scatter',
    data: {
      datasets: [
        { data: zip(rankCtrlx, rankCtrly), showLine: true, borderColor: CY_LN, borderWidth: 1.6, pointRadius: 0 },
        { data: zip(rankICx, rankICy), showLine: true, borderColor: OR_LN, borderWidth: 1.6, pointRadius: 0 },
      ],
    },
    options: {
      ...base(cG, pG),
      scales: {
        x: {
          type: 'linear', min: 0, max: 2195, afterBuildTicks: at(rankTicksX), afterFit: xFit(cG, pG),
          ticks: { callback: comma, font: F(6.5), color: '#444', padding: 1, autoSkip: false, minRotation: 0, maxRotation: 0 },
          grid: { drawOnChartArea: false, tickLength: 3, color: '#888' }, border: { display: true, color: '#888' },
        },
        y: {
          type: 'linear', min: -5.27, max: -0.37, afterBuildTicks: at(rankTicksY), afterFit: yFit(cG, pG),
          ticks: { callback: fx1, font: F(6.5), color: '#444', padding: 1, autoSkip: false },
          grid: { color: '#e2e2e2', tickColor: '#888', tickLength: 3 }, border: { display: true, color: '#888', dash: [2, 2] },
        },
      },
    },
  }),
  H: () => ({
    type: 'scatter',
    data: {
      datasets: [
        { data: zip(rareX, rareCtrl), showLine: true, borderColor: CY_LN, borderWidth: 1.6, pointRadius: 0 },
        { data: zip(rareX, rareIC), showLine: true, borderColor: OR_LN, borderWidth: 1.6, pointRadius: 0 },
      ],
    },
    options: {
      ...base(cH, pH),
      scales: {
        x: {
          type: 'linear', min: 0, max: 67800, afterBuildTicks: at(rareTicksX), afterFit: xFit(cH, pH),
          ticks: { callback: comma, font: F(6.2), color: '#444', padding: 1, autoSkip: false, minRotation: 0, maxRotation: 0 },
          grid: { drawOnChartArea: false, tickLength: 3, color: '#888' }, border: { display: true, color: '#888' },
        },
        y: {
          type: 'linear', min: 0, max: 656, afterBuildTicks: at(rareTicksY), afterFit: yFit(cH, pH),
          ticks: { font: F(6.2), color: '#444', padding: 1, autoSkip: false },
          grid: { color: '#e2e2e2', tickColor: '#888', tickLength: 2.5 }, border: { display: true, color: '#888', dash: [2, 2] },
        },
      },
    },
  }),
  I: () => rPanel(cI, pI, -75, 1848, anosimI, [0.8, 0.54, 0.57]),
  J: () => rPanel(cJ, pJ, -63, 1850, anosimJ, [0.81, 0.58, 0.56]),
  K: () => ({
    type: 'scatter',
    data: {
      datasets: [
        { data: pts(pcoaControl), pointRadius: 3, backgroundColor: CY_LN, borderWidth: 0, clip: false },
        { data: pts(pcoaIC), pointRadius: 3, backgroundColor: OR_LN, borderWidth: 0, clip: false },
      ],
    },
    options: {
      ...base(cK, pK),
      scales: {
        x: {
          type: 'linear', min: -0.592, max: 0.304, afterBuildTicks: at(pcoaTicksX), afterFit: xFit(cK, pK),
          ticks: { callback: fx1, font: F(7.8), color: '#333', padding: 2, autoSkip: false, minRotation: 0, maxRotation: 0 },
          grid: { color: (ctx: any) => (ctx.tick && ctx.tick.value === 0 ? '#555' : 'rgba(0,0,0,0)'), tickColor: '#333', tickLength: 3 }, border: { display: false },
        },
        y: {
          type: 'linear', min: -0.368, max: 0.544, afterBuildTicks: at(pcoaTicksY), afterFit: yFit(cK, pK),
          ticks: { callback: fx1, font: F(7.8), color: '#333', padding: 1, autoSkip: false },
          grid: { color: (ctx: any) => (ctx.tick && ctx.tick.value === 0 ? '#555' : 'rgba(0,0,0,0)'), tickColor: '#333', tickLength: 3 }, border: { display: false },
        },
      },
    },
    plugins: [framePlug('#777')],
  }),
  L: () => ggPanel({ c: cL, p: pL, ymin: -0.017, ymax: 1.084, yticks: pairTicks, yfmt: fx1, xmin: 0.27, xmax: 2.49, boxes: pairBoxes, bw: [0.59, 0.59], cap: 0.22, ctrl: pairControl, ic: pairIC, tick: 10.5, r: 3, grid: false }),
};

/* ======================= COMPONENTS ======================= */
function ChartCanvas({ c, make }: { c: Rect; make: () => any }) {
  const ref = useRef<HTMLCanvasElement>(null);
  useEffect(() => {
    const chart = new Chart(ref.current as HTMLCanvasElement, make());
    return () => chart.destroy();
  }, []);
  return <canvas ref={ref} width={c.w} height={c.h} style={{ position: 'absolute', left: c.x, top: c.y, width: c.w, height: c.h }} />;
}

function Txt({ x, y, t, s, b = false, rot = 0, a = 'c', f = SANS, c = '#1a1a1a' }: any) {
  const tr = a === 'l' ? 'translate(0,-50%)' : 'translate(-50%,-50%)';
  return (
    <div style={{ position: 'absolute', left: x, top: y, transform: `${tr} rotate(${rot}deg)`, transformOrigin: a === 'l' ? 'left center' : 'center', fontFamily: f, fontSize: s, fontWeight: b ? 700 : 400, color: c, whiteSpace: 'nowrap', lineHeight: 1 }}>{t}</div>
  );
}

function Sq({ x, y, s, fill, line }: any) {
  return <div style={{ position: 'absolute', left: x, top: y, width: s, height: s, background: fill, border: line ? `1px solid ${line}` : 'none', boxSizing: 'border-box' }} />;
}

function Dot({ x, y, r, fill }: any) {
  return <div style={{ position: 'absolute', left: x - r, top: y - r, width: 2 * r, height: 2 * r, borderRadius: '50%', background: fill }} />;
}

function GGLegend({ x, y1, y2, s, tx, fs }: any) {
  return (
    <>
      <Sq x={x} y={y1 - s / 2} s={s} fill={OR_FILL} line={OR_LINE} />
      <Txt x={tx} y={y1} t="control" s={fs} a="l" />
      <Sq x={x} y={y2 - s / 2} s={s} fill={CY_FILL} line={CY_LINE} />
      <Txt x={tx} y={y2} t="IC" s={fs} a="l" />
    </>
  );
}

export default function App() {
  const rects: [string, Rect][] = [['A', cA], ['B1', cB1], ['B2', cB2], ['B3', cB3], ['C', cC], ['D', cD], ['E', cE], ['F', cF], ['G', cG], ['H', cH], ['I', cI], ['J', cJ], ['K', cK], ['L', cL]];
  const letters: [string, number, number][] = [['A', 30, 16.5], ['B', 282, 20], ['C', 590, 18], ['D', 26, 285.5], ['E', 282, 286], ['F', 587, 285], ['G', 26, 545], ['H', 285, 545], ['I', 584, 545], ['J', 21, 757], ['K', 284, 753], ['L', 587, 753]];
  return (
    <div style={{ position: 'absolute', left: 0, top: 0, width: 764, height: 992, background: '#fff', overflow: 'hidden' }}>
      {rects.map(([k, c]) => <ChartCanvas key={k} c={c} make={configs[k]} />)}

      {letters.map(([t, x, y]) => <Txt key={t} x={x} y={y} t={t} s={26} f={SERIF} c="#111" />)}

      {/* A */}
      <Txt x={77} y={217} t="control" s={13.5} />
      <Txt x={176} y={217} t="IC" s={13.5} />

      {/* B */}
      <Txt x={384} y={40} t="upset plot" s={12} b />
      <Txt x={259} y={163} t="group" s={9.5} rot={-90} />
      <Sq x={480} y={63} s={7} fill={OR_BAR} />
      <Txt x={490} y={66.5} t="control" s={10} a="l" />
      <Sq x={480} y={78} s={7} fill={CY_BAR} />
      <Txt x={490} y={81.5} t="IC" s={10} a="l" />

      {/* C */}
      <Txt x={543} y={125} t="Chao1" s={10} b rot={-90} />
      <Txt x={646} y={228} t="group" s={10} b />
      <GGLegend x={717} y1={56} y2={71} s={7} tx={726} fs={10} />

      {/* D */}
      <Txt x={17} y={398} t="ACE" s={10.5} b rot={-90} />
      <Txt x={125} y={501} t="group" s={10.5} b />
      <GGLegend x={203} y1={327} y2={342} s={7} tx={212} fs={10} />

      {/* E */}
      <Txt x={272} y={397.5} t="Shannon" s={10.5} b rot={-90} />
      <Txt x={368} y={501.5} t="group" s={10.5} b />
      <GGLegend x={440} y1={327} y2={342} s={7} tx={449} fs={10} />

      {/* F */}
      <Txt x={531} y={396} t="Simpson" s={10.5} b rot={-90} />
      <Txt x={632} y={499} t="group" s={10.5} b />
      <GGLegend x={708} y1={326.5} y2={341} s={7} tx={717} fs={10} />

      {/* G */}
      <Txt x={12} y={636} t="log10(relative abundance)" s={7.5} b rot={-90} />
      <Txt x={146.5} y={714} t="Rank" s={7.5} b />
      <Sq x={258.5} y={575.5} s={4} fill={OR_LN} />
      <Txt x={264} y={577.5} t="IC" s={6.8} a="l" />
      <Sq x={258.5} y={586.5} s={4} fill={CY_LN} />
      <Txt x={264} y={588.5} t="control" s={6.8} a="l" />

      {/* H */}
      <Txt x={309} y={637} t="Chao1" s={6.5} b rot={-90} />
      <Txt x={439} y={710.5} t="Number of tags sampled" s={6.5} b />
      <Sq x={546.5} y={577.5} s={4} fill={OR_LN} />
      <Txt x={552} y={579.5} t="IC" s={6.8} a="l" />
      <Sq x={546.5} y={588} s={4} fill={CY_LN} />
      <Txt x={552} y={590} t="control" s={6.8} a="l" />

      {/* I */}
      <Txt x={678.5} y={556} t="R = 0.251 ,  P = 0.001" s={5.5} c="#444" />
      <Txt x={573} y={627} t="rank" s={5.5} rot={-90} c="#444" />

      {/* J */}
      <Txt x={112.5} y={781.5} t="R = 0.201 ,  P = 0.001" s={5.5} c="#444" />
      <Txt x={5} y={858} t="rank" s={5.5} rot={-90} c="#444" />

      {/* K */}
      <Txt x={344.5} y={775} t="PCoA on OTU level" s={10.6} b />
      <Txt x={238} y={875} t="PCo2(14.56%)" s={9} b rot={-90} />
      <Txt x={344.5} y={978} t="PCo1(22.87%)" s={9} b />
      <Dot x={427.7} y={795} r={3.2} fill={OR_LN} />
      <Txt x={433} y={795} t="IC" s={9} a="l" />
      <Dot x={427.7} y={811.7} r={3.2} fill={CY_LN} />
      <Txt x={433} y={812} t="control" s={9} a="l" />

      {/* L */}
      <Txt x={605} y={983} t="group" s={12} b />
      <GGLegend x={691} y1={785} y2={802.5} s={9} tx={702} fs={12} />
    </div>
  );
}
